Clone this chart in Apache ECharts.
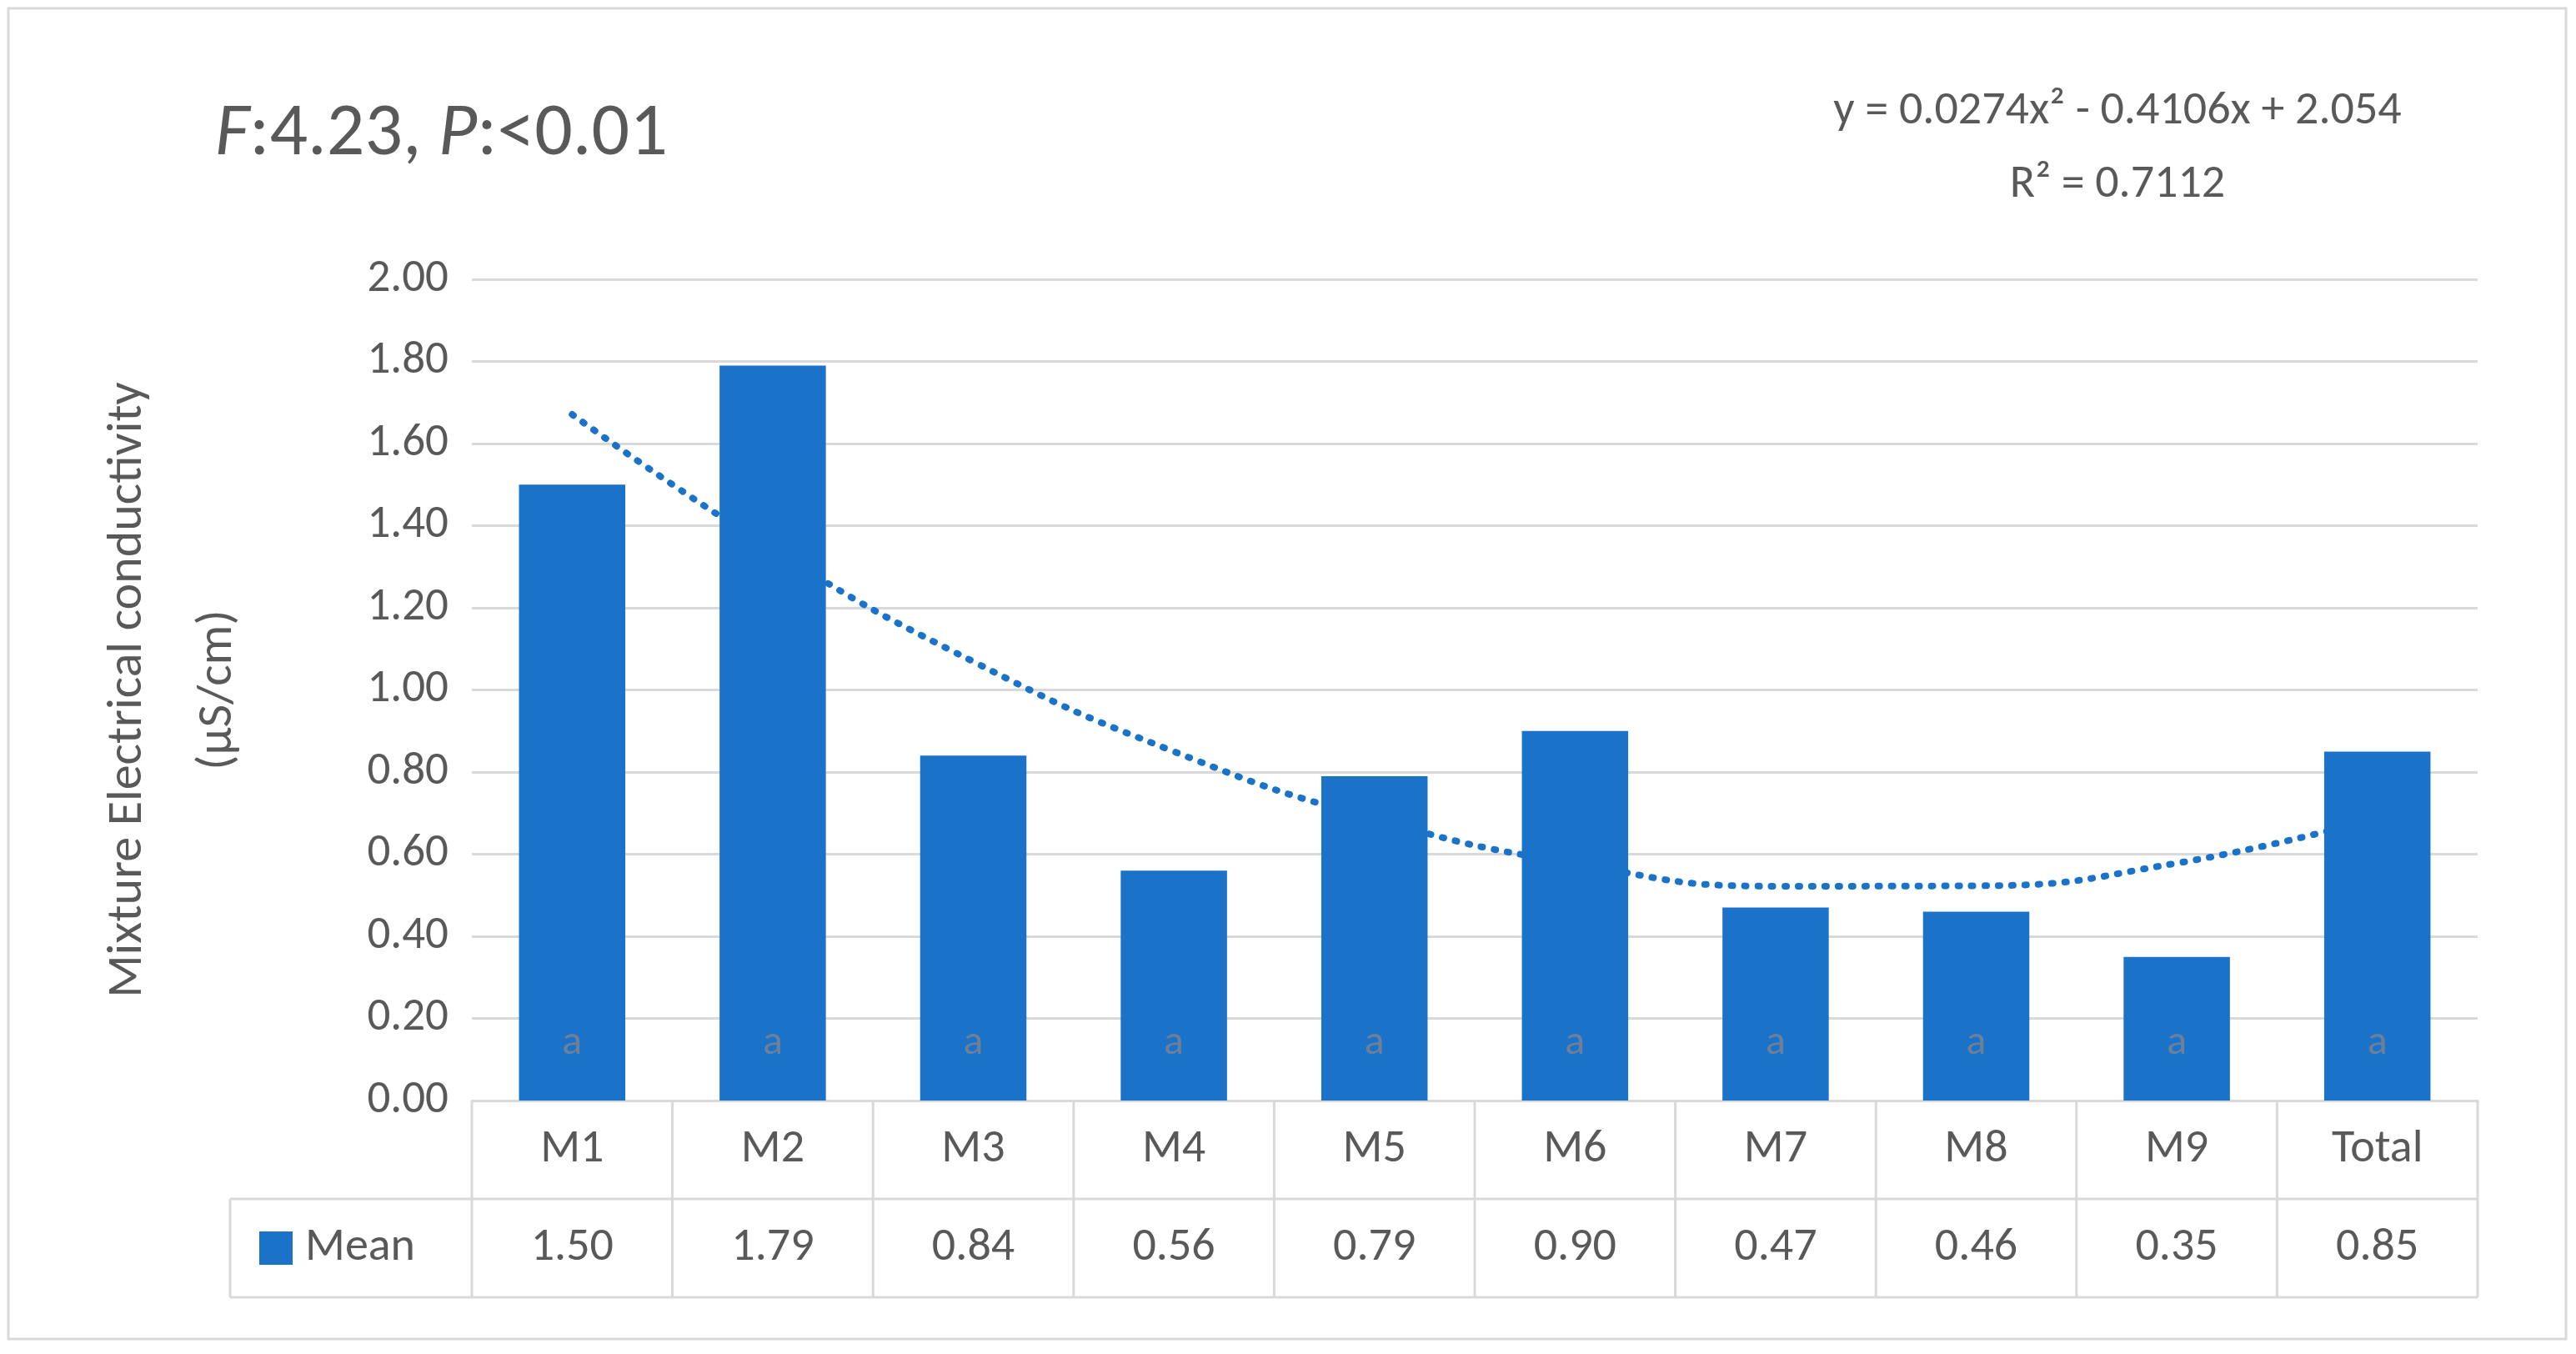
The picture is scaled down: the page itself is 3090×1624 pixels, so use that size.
<!DOCTYPE html>
<html><head><meta charset="utf-8">
<script src="https://cdn.jsdelivr.net/npm/echarts@6/dist/echarts.min.js"></script>
<style>html,body{margin:0;padding:0;background:#fff}#c{width:3090px;height:1624px}</style>
</head><body><div id="c"></div>
<script>
const categories = ['M1','M2','M3','M4','M5','M6','M7','M8','M9','Total'];
const meanValues = [1.50,1.79,0.84,0.56,0.79,0.90,0.47,0.46,0.35,0.85];
const tableLabels = ['1.50','1.79','0.84','0.56','0.79','0.90','0.47','0.46','0.35','0.85'];
const trendValues = [1.671,1.342,1.069,0.850,0.686,0.577,0.522,0.523,0.578,0.688];
const letters = ['a','a','a','a','a','a','a','a','a','a'];

(function(){
const G = {left:566, top:335, width:2406, height:985};
const gray = '#595959', line = '#d9d9d9', blue = '#1a73c8';
const font = 'Calibri, Carlito, "Open Sans", sans-serif';
const chart = echarts.init(document.getElementById('c'));
chart.setOption({
  animation:false,
  textStyle:{fontFamily:font},
  grid:{left:G.left, top:G.top, width:G.width, height:G.height},
  xAxis:{type:'category', data:categories, axisLabel:{show:false}, axisTick:{show:false},
    axisLine:{lineStyle:{color:line,width:3}}},
  yAxis:{type:'value', min:0, max:2, interval:0.2,
    axisLabel:{formatter:v=>v.toFixed(2), color:gray, fontSize:55, margin:28, fontFamily:font},
    splitLine:{lineStyle:{color:line,width:3}}, axisLine:{show:false}, axisTick:{show:false},
    name:'Mixture Electrical conductivity\n(µS/cm)', nameLocation:'middle', nameGap:250, nameRotate:90,
    nameTextStyle:{color:gray, fontSize:60, lineHeight:108, fontFamily:font}},
  series:[
    {type:'bar', data:meanValues.map((v,i)=>({value:v, label:{formatter:letters[i]}})), barWidth:'53%',
      itemStyle:{color:blue},
      label:{show:true, position:'insideBottom', distance:44, color:'#6d7f99', fontSize:50, fontFamily:font}},
    {type:'line', data:trendValues, smooth:0.5, symbol:'none', z:5,
      lineStyle:{color:blue, width:8, type:[2,14], cap:'round'}}
  ]
});

const gr = [];
const yTop = G.top+G.height, r1 = 1438, r2 = 1556, xRight = G.left+G.width, tl = 276;
const hl = (x1,y,x2)=>gr.push({type:'line',shape:{x1,y1:y,x2,y2:y},style:{stroke:line,lineWidth:3}});
const vl = (x,y1,y2)=>gr.push({type:'line',shape:{x1:x,y1,x2:x,y2},style:{stroke:line,lineWidth:3}});
hl(tl,r1,xRight); hl(tl,r2,xRight); vl(tl,r1,r2);
const cw = G.width/categories.length;
for(let i=0;i<=categories.length;i++) vl(G.left+i*cw, yTop, r2);
categories.forEach((c,i)=>{
  const x = chart.convertToPixel({xAxisIndex:0}, c);
  gr.push({type:'text',x,y:(yTop+r1)/2,style:{text:c,fill:gray,fontSize:56,fontFamily:font,align:'center',verticalAlign:'middle'}});
  gr.push({type:'text',x,y:(r1+r2)/2,style:{text:tableLabels[i],fill:gray,fontSize:56,fontFamily:font,align:'center',verticalAlign:'middle'}});
});
gr.push({type:'rect',shape:{x:311,y:1477,width:40,height:40},style:{fill:blue}});
gr.push({type:'text',x:366,y:(r1+r2)/2,style:{text:'Mean',fill:gray,fontSize:56,fontFamily:font,verticalAlign:'middle'}});
gr.push({type:'rect',shape:{x:10,y:10,width:3068,height:1596},style:{fill:'none',stroke:line,lineWidth:3}});
gr.push({type:'text',x:258,y:162,style:{rich:{i:{fontStyle:'italic',fontSize:90,fill:gray,fontFamily:font},n:{fontSize:90,fill:gray,fontFamily:font}},
  text:'{i|F}{n|:4.23, }{i|P}{n|:<0.01}',verticalAlign:'middle'}});
gr.push({type:'text',x:2540,y:134,style:{text:'y = 0.0274x² - 0.4106x + 2.054',fill:gray,fontSize:56,fontFamily:font,align:'center',verticalAlign:'middle'}});
gr.push({type:'text',x:2540,y:222,style:{text:'R² = 0.7112',fill:gray,fontSize:56,fontFamily:font,align:'center',verticalAlign:'middle'}});
chart.setOption({graphic:gr});
})();
</script></body></html>
